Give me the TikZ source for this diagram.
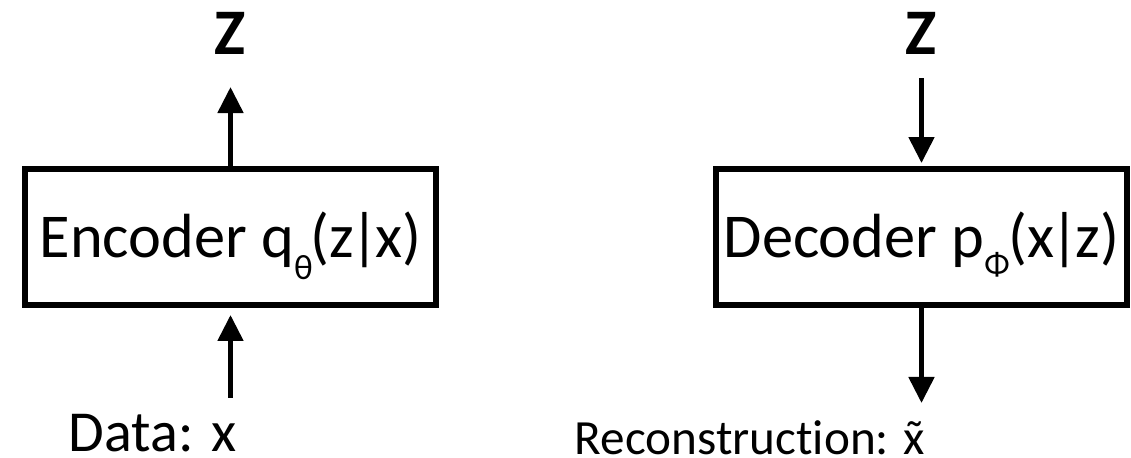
\documentclass[tikz,border=0pt]{standalone}
\usepackage{fontspec}
\setmainfont{Carlito}[Ligatures=NoCommon]
\usetikzlibrary{arrows.meta,positioning}
\newcommand{\mybar}{\kern-0.06em|\kern-0.06em}

\begin{document}
\begin{tikzpicture}[
  node distance=2.2cm,
  block/.style={draw,line width=3.4pt,minimum width=8.22cm,minimum height=2.72cm,inner sep=0pt,text height=0.8cm,text depth=0pt,font=\fontsize{35.5}{40}\selectfont},
  latent/.style={inner sep=0pt,font=\fontsize{37}{40}\selectfont\bfseries},
  io/.style={inner sep=0pt,font=\fontsize{33}{36}\selectfont},
  arrow/.style={-{Triangle[length=0.52cm,width=0.5cm]},line width=2.8pt}
]
\useasboundingbox (0,0) rectangle (22.62,-9.14);
% the two boxes
\node[block] (enc) at (4.61,-4.74) {Encoder q\raisebox{-0.44cm}{\fontsize{20}{20}\selectfont θ}\kern-0.04cm(z\mybar x)};
\node[block] (dec) at (18.43,-4.74) {Decoder p\raisebox{-0.36cm}{\fontsize{19}{19}\selectfont Φ}\kern-0.02cm(x\mybar z)};
% labels
\node[latent,above=2.22cm of enc] (zenc) {Z};
\node[latent,above=2.22cm of dec] (zdec) {Z};
\node[io,below=2.12cm of enc,xshift=-1.56cm] (data) {Data: x};
\node[io,font=\fontsize{28}{30}\selectfont,below=2.24cm of dec,xshift=-3.43cm] (recon) {Reconstruction: \accent"02DC x};
% arrows
\draw[arrow,shorten >=0.64cm] (enc) -- (zenc);
\draw[arrow,shorten <=0.32cm,shorten >=0.14cm] (enc.south |- data.north) -- (enc);
\draw[arrow,shorten <=0.46cm,shorten >=0.06cm] (zdec) -- (dec);
\draw[arrow,shorten >=0.34cm] (dec) -- (dec.south |- recon.north);
\end{tikzpicture}
\end{document}
